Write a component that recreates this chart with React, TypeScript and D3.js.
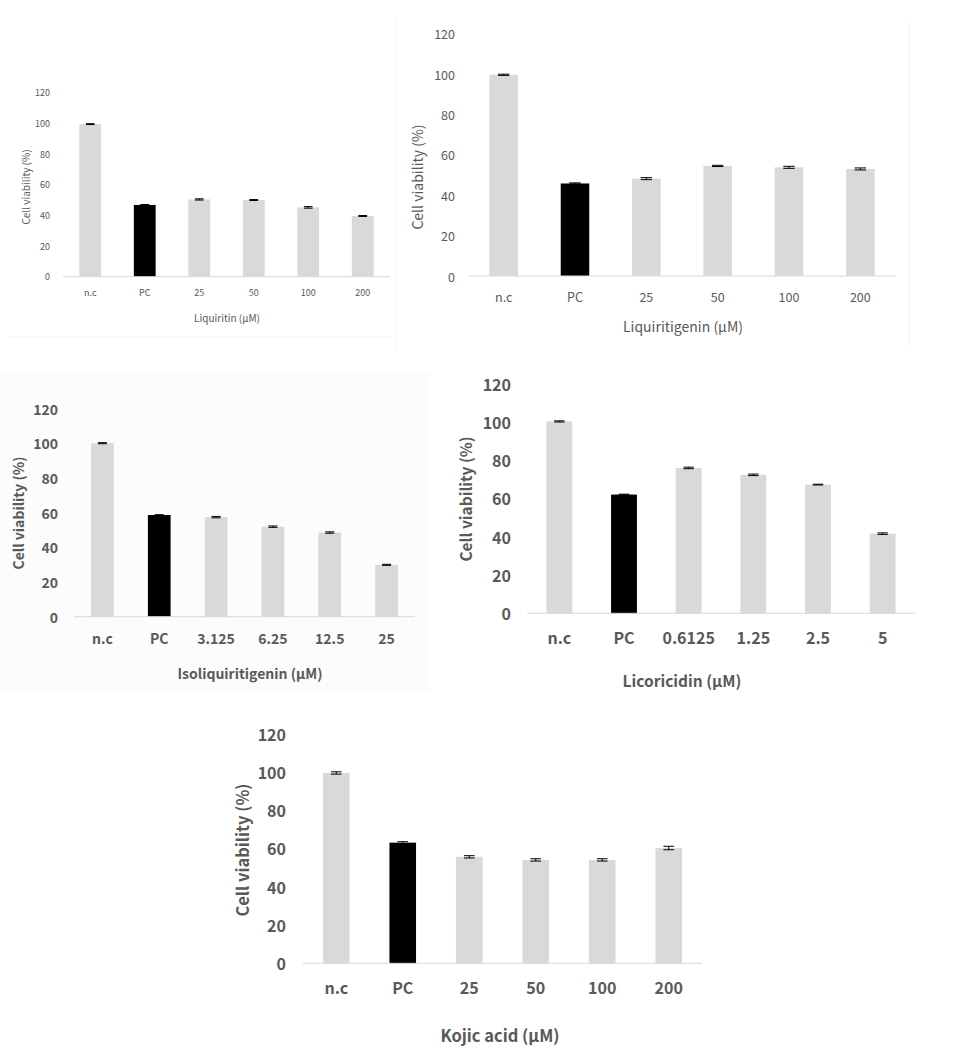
import React from "react";
import * as d3 from "d3";

// ---------- data ----------
const doseCategories = ["n.c", "PC", "25", "50", "100", "200"];
const isoCategories = ["n.c", "PC", "3.125", "6.25", "12.5", "25"];
const licoCategories = ["n.c", "PC", "0.6125", "1.25", "2.5", "5"];
const yTicks = [0, 20, 40, 60, 80, 100, 120];

const liquiritinValues = [99.5, 46.8, 50.4, 50.0, 45.2, 39.6];
const liquiritinErrors = [0.3, 0.3, 0.4, 0.3, 0.5, 0.3];

const liquiritigeninValues = [99.6, 45.8, 48.2, 54.5, 53.8, 53.0];
const liquiritigeninErrors = [0.3, 0.3, 0.5, 0.3, 0.5, 0.5];

const isoValues = [100.0, 58.6, 57.4, 51.9, 48.5, 29.9];
const isoErrors = [0.3, 0.2, 0.4, 0.4, 0.4, 0.3];

const licoValues = [100.2, 62.0, 75.9, 72.3, 67.2, 41.6];
const licoErrors = [0.3, 0.2, 0.4, 0.4, 0.2, 0.4];

const kojicValues = [99.4, 63.0, 55.6, 54.0, 54.0, 60.2];
const kojicErrors = [0.6, 0.5, 0.6, 0.6, 0.6, 0.9];

const barColors = ["#d9d9d9", "#000000", "#d9d9d9", "#d9d9d9", "#d9d9d9", "#d9d9d9"];

type PanelCfg = {
  categories: string[];
  values: number[];
  errors: number[];
  title: string;
  x0: number; x1: number; yBase: number; yTop: number;
  labelRight: number; xLabelY: number; titleX: number; titleY: number;
  yTitleX: number; yTitleY: number;
  tickSize: number; titleSize: number; bold: boolean;
};

const panels: PanelCfg[] = [
  {
    categories: doseCategories, values: liquiritinValues, errors: liquiritinErrors,
    title: "Liquiritin (µM)",
    x0: 63, x1: 390, yBase: 276.7, yTop: 92.7,
    labelRight: 50, xLabelY: 292, titleX: 227, titleY: 317,
    yTitleX: 25, yTitleY: 187, tickSize: 9, titleSize: 10, bold: false,
  },
  {
    categories: doseCategories, values: liquiritigeninValues, errors: liquiritigeninErrors,
    title: "Liquiritigenin (µM)",
    x0: 468, x1: 896, yBase: 276, yTop: 33.6,
    labelRight: 455, xLabelY: 296, titleX: 683, titleY: 326,
    yTitleX: 417, yTitleY: 177, tickSize: 12.5, titleSize: 14, bold: false,
  },
  {
    categories: isoCategories, values: isoValues, errors: isoErrors,
    title: "Isoliquiritigenin (µM)",
    x0: 74, x1: 415, yBase: 616.7, yTop: 408.5,
    labelRight: 58, xLabelY: 638, titleX: 250, titleY: 673,
    yTitleX: 18, yTitleY: 513, tickSize: 14, titleSize: 14, bold: true,
  },
  {
    categories: licoCategories, values: licoValues, errors: licoErrors,
    title: "Licoricidin (µM)",
    x0: 527, x1: 915, yBase: 613.3, yTop: 383.5,
    labelRight: 511, xLabelY: 637, titleX: 682, titleY: 680,
    yTitleX: 465, yTitleY: 499, tickSize: 16, titleSize: 15.5, bold: true,
  },
  {
    categories: doseCategories, values: kojicValues, errors: kojicErrors,
    title: "Kojic acid (µM)",
    x0: 303, x1: 702, yBase: 963.3, yTop: 733.5,
    labelRight: 286, xLabelY: 987, titleX: 500, titleY: 1035,
    yTitleX: 242, yTitleY: 850, tickSize: 16, titleSize: 16.5, bold: true,
  },
];

const FONT = "'Noto Sans CJK KR', 'Noto Sans', sans-serif";
const TEXT = "#595959";

function Panel({ cfg }: { cfg: PanelCfg }) {
  const x = d3.scaleBand<string>().domain(cfg.categories).range([cfg.x0, cfg.x1]).paddingInner(0.6).paddingOuter(0.3);
  const y = d3.scaleLinear().domain([0, 120]).range([cfg.yBase, cfg.yTop]);
  const bw = x.bandwidth();
  const weight = cfg.bold ? 700 : 400;
  return (
    <g fontFamily={FONT} fill={TEXT} fontWeight={weight}>
      {yTicks.map((t) => (
        <text key={t} x={cfg.labelRight} y={y(t)} textAnchor="end" dominantBaseline="central" fontSize={cfg.tickSize}>
          {t}
        </text>
      ))}
      {cfg.categories.map((c, i) => {
        const cx = (x(c) as number) + bw / 2;
        const v = cfg.values[i];
        const e = cfg.errors[i];
        const cap = bw * 0.2;
        return (
          <g key={c}>
            <rect x={x(c)} y={y(v)} width={bw} height={cfg.yBase - y(v)} fill={barColors[i]} />
            <line x1={cx} x2={cx} y1={y(v + e)} y2={y(v - e)} stroke="#000" strokeWidth={1} />
            <line x1={cx - cap} x2={cx + cap} y1={y(v + e)} y2={y(v + e)} stroke="#000" strokeWidth={1} />
            <line x1={cx - cap} x2={cx + cap} y1={y(v - e)} y2={y(v - e)} stroke="#000" strokeWidth={1} />
            <text x={cx} y={cfg.xLabelY} textAnchor="middle" dominantBaseline="central" fontSize={cfg.tickSize}>
              {c}
            </text>
          </g>
        );
      })}
      <line x1={cfg.x0} x2={cfg.x1} y1={cfg.yBase} y2={cfg.yBase} stroke="#d9d9d9" strokeWidth={1} />
      <text x={cfg.titleX} y={cfg.titleY} textAnchor="middle" dominantBaseline="central" fontSize={cfg.titleSize}>
        {cfg.title}
      </text>
      <text
        transform={`translate(${cfg.yTitleX},${cfg.yTitleY}) rotate(-90)`}
        textAnchor="middle"
        dominantBaseline="central"
        fontSize={cfg.titleSize}
      >
        Cell viability (%)
      </text>
    </g>
  );
}

export default function App() {
  return (
    <svg width={956} height={1058} style={{ position: "absolute", left: 0, top: 0, background: "#fff" }}>
      <rect x={0} y={0} width={956} height={1058} fill="#ffffff" />
      <rect x={0} y={372} width={430} height={320} fill="#fcfcfc" />
      <line x1={8} x2={394} y1={337} y2={337} stroke="#f2f2f2" />
      <line x1={396} x2={396} y1={20} y2={350} stroke="#f2f2f2" />
      <line x1={909} x2={909} y1={20} y2={345} stroke="#f2f2f2" />
      {panels.map((p) => (
        <Panel key={p.title} cfg={p} />
      ))}
    </svg>
  );
}
